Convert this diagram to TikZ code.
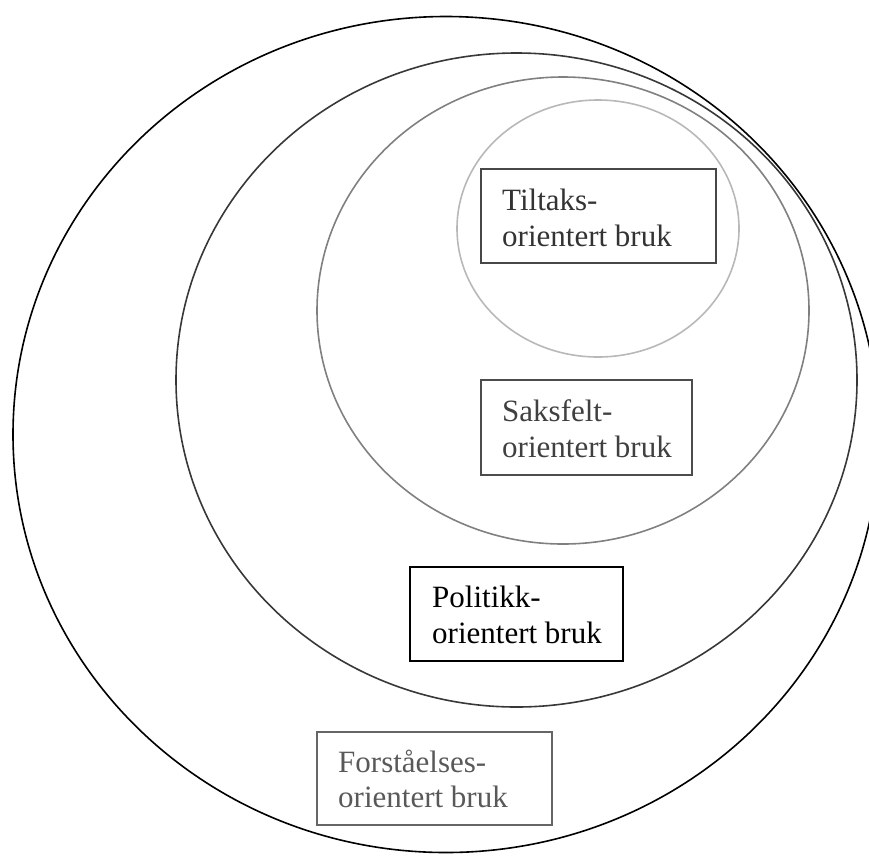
\documentclass[tikz,border=0pt]{standalone}
\usepackage{fontspec}
\setmainfont{Liberation Serif}
\begin{document}
\begin{tikzpicture}[x=1pt,y=-1pt,
  ring/.style={line width=1.6pt},
  labelbox/.style={draw, line width=1.6pt, inner sep=0pt, rectangle},
  lbl/.style={anchor=base west, inner sep=0pt, font=\fontsize{31}{36}\selectfont},
]
\useasboundingbox (0,0) rectangle (869,855);

% nested fields of use
\draw[ring, black] (446,434.5) ellipse [x radius=433pt, y radius=418pt];
\draw[ring, black!78] (516.5,380) ellipse [x radius=340.5pt, y radius=327pt];
\draw[ring, black!50] (563,310.5) ellipse [x radius=246pt, y radius=233.5pt];
\draw[ring, black!28] (598,228.5) ellipse [x radius=141pt, y radius=128.5pt];

% Tiltaks
\node[labelbox, draw=black!72, minimum width=235pt, minimum height=94pt] (tbox) at (598.5,216) {};
\node[lbl, text=black!80] (t1) at (502,210) {Tiltaks-};
\node[lbl, text=black!80] (t2) at (502,246) {orientert bruk};

% Saksfelt
\node[labelbox, draw=black!70, minimum width=211pt, minimum height=95pt] (sbox) at (586.5,427.5) {};
\node[lbl, text=black!75] (s1) at (502,421) {Saksfelt-};
\node[lbl, text=black!75] (s2) at (502,457) {orientert bruk};

% Politikk
\node[labelbox, draw=black, line width=2pt, minimum width=213pt, minimum height=94pt] (pbox) at (516.5,614) {};
\node[lbl, text=black] (p1) at (432,607) {Politikk-};
\node[lbl, text=black] (p2) at (432,643) {orientert bruk};

% Forstaelses
\node[labelbox, draw=black!60, minimum width=235pt, minimum height=93pt] (fbox) at (434.5,778.5) {};
\node[lbl, text=black!65] (f1) at (338,772) {Forståelses-};
\node[lbl, text=black!65] (f2) at (338,807) {orientert bruk};
\end{tikzpicture}
\end{document}
